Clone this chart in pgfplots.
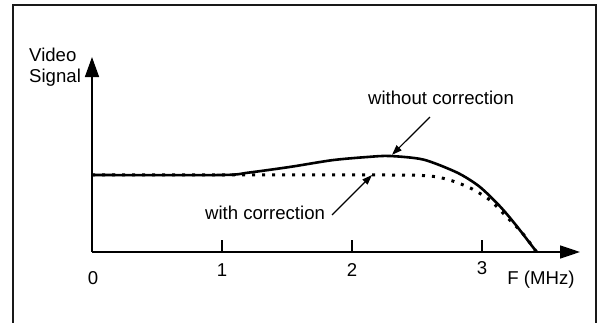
\documentclass[border=0pt]{standalone}
\usepackage{pgfplots}
\pgfplotsset{compat=1.18}
\usepackage{fontspec}
\setmainfont{Liberation Sans}
\usetikzlibrary{arrows.meta}

\tikzset{lbl/.style={font=\fontsize{18.6}{22}\selectfont}}

% pixel -> data: f = (px-92)/130, y = (252-py)/77
\pgfplotstableread{
f     y
0.00  1.000
1.00  1.000
1.20  1.030
1.52  1.104
1.85  1.193
2.12  1.234
2.29  1.247
2.55  1.200
2.81  1.030
2.98  0.850
3.14  0.590
3.27  0.330
3.42  0.000
}\withoutcorr

\pgfplotstableread{
f     y
0.00  1.000
1.00  1.000
2.30  1.000
2.60  0.987
2.75  0.935
2.91  0.831
3.06  0.675
3.19  0.455
3.31  0.247
3.42  0.000
}\withcorr

\begin{document}
\begin{tikzpicture}
\begin{axis}[
  width=607pt, height=323pt,
  scale only axis,
  hide axis,
  xmin=-0.70769, xmax=3.96154,
  ymin=-0.92208, ymax=3.27273,
]
  % keep the whole axis area as the picture
  \path (rel axis cs:0,0) rectangle (rel axis cs:1,1);

  % outer frame (bottom edge lies below the picture)
  \draw[line width=1.5pt, gray!20!black] (axis cs:-0.6077,-0.92208) -- (axis cs:-0.6077,3.208)
     -- (axis cs:3.877,3.208) -- (axis cs:3.877,-0.92208);

  % axes with arrows
  \draw[line width=1.6pt, -{Triangle[length=20pt,width=14pt]}] (axis cs:0,0) -- (axis cs:0,2.532);
  \draw[line width=1.5pt, -{Triangle[length=20pt,width=13pt]}] (axis cs:0,0) -- (axis cs:3.754,0);

  % ticks
  \draw[line width=1.3pt] (axis cs:1,0) -- (axis cs:1,0.156);
  \draw[line width=1.3pt] (axis cs:2,0) -- (axis cs:2,0.156);
  \draw[line width=1.3pt] (axis cs:3,0) -- (axis cs:3,0.156);

  \addplot[line width=2.6pt, smooth, tension=0.45] table[x=f, y=y] {\withoutcorr};
  \addplot[line width=3pt, line cap=butt, dash pattern=on 3pt off 7pt, smooth, tension=0.45]
    table[x=f, y=y] {\withcorr};

  % tick labels
  \node[lbl] at (axis cs:0.0077,-0.338) {0};
  \node[lbl] at (axis cs:1.0,-0.234) {1};
  \node[lbl] at (axis cs:2.0,-0.234) {2};
  \node[lbl] at (axis cs:3.0,-0.208) {3};
  \node[lbl] at (axis cs:3.454,-0.364) {F (MHz)};

  % y label
  \node[lbl, anchor=west, inner sep=0pt] at (axis cs:-0.4846,2.558) {Video};
  \node[lbl, anchor=west, inner sep=0pt] at (axis cs:-0.4846,2.26) {Signal};

  % annotations
  \node[lbl] at (axis cs:2.685,2.0) {without correction};
  \draw[line width=1.2pt, -{Triangle[length=10pt,width=7pt]}]
    (axis cs:2.6,1.753) -- (axis cs:2.3077,1.262);
  \node[lbl] at (axis cs:1.331,0.506) {with correction};
  \draw[line width=1.2pt, -{Triangle[length=10pt,width=7pt]}]
    (axis cs:1.846,0.481) -- (axis cs:2.154,1.0);
\end{axis}
\end{tikzpicture}
\end{document}
